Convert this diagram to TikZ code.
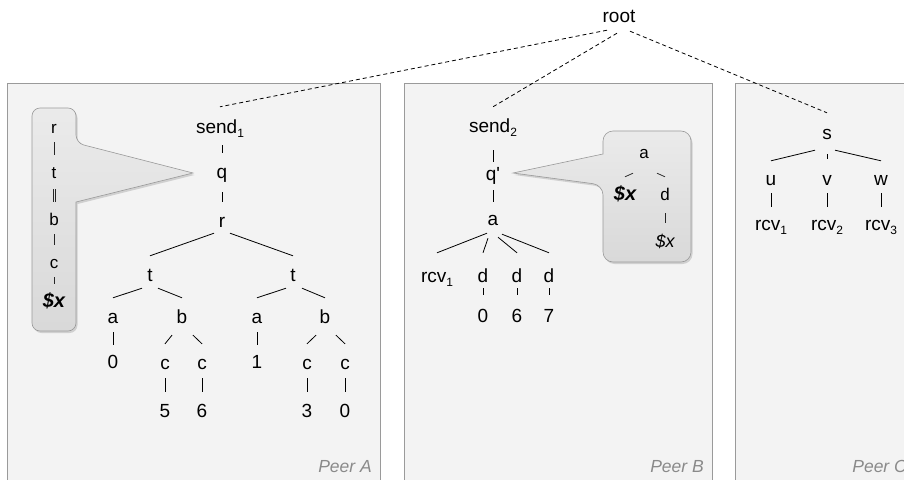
\documentclass[tikz,border=0pt]{standalone}
\usepackage{fontspec}
\setmainfont{Liberation Sans}
\usepackage{xcolor}
\usepackage{tikz}
\usetikzlibrary{shadows}

\definecolor{peerfill}{HTML}{F3F3F3}
\definecolor{peerline}{HTML}{9A9A9A}
\definecolor{peertext}{HTML}{8A8A8A}

\newcommand{\lowix}[1]{\raisebox{-4pt}{\fontsize{12}{12}\selectfont #1}}
\newcommand{\varx}{{\fontsize{20}{22}\selectfont\bfseries\itshape\$x}}

\tikzset{
  tn/.style={font=\fontsize{19}{22}\selectfont, inner sep=0pt, text height=14pt, text depth=4pt, anchor=base},
  kn/.style={font=\fontsize{17}{20}\selectfont, inner sep=0pt, text height=12pt, text depth=3pt, anchor=base},
  twig/.style={line width=0.8pt},
  kwig/.style={line width=0.75pt, draw=black!85},
  link/.style={line width=0.8pt, dash pattern=on 4pt off 3pt},
  peer/.style={fill=peerfill, draw=peerline, line width=0.8pt},
  peerlabel/.style={font=\fontsize{17.5}{20}\selectfont\itshape, text=peertext, anchor=base east, inner sep=0pt},
  callout/.style={draw=black!40, line width=0.6pt, top color=black!8, bottom color=black!15,
    drop shadow={shadow xshift=1.5pt, shadow yshift=-2pt, opacity=0.3}},
}

\begin{document}
\begin{tikzpicture}[x=1pt, y=-1pt]
    \useasboundingbox (0,0) rectangle (904,479);
    \clip (0,0) rectangle (904,479);

    % peers
    \path[peer] (7,83) rectangle (380,490);
    \path[peer] (404,83) rectangle (712,490);
    \path[peer] (735,83) rectangle (915,490);
    \node[peerlabel] (labA) at (372,472) {Peer A};
    \node[peerlabel] (labB) at (704,472) {Peer B};
    \node[peerlabel] (labC) at (907,472) {Peer C};

    % callouts
    \path[callout] (76,143) -- (193,173) -- (76,202) [rounded corners=8pt] -- (76,331) -- (32,331) -- (32,108) -- (76,108) -- cycle;
    \path[callout] (603,185) -- (513,173) -- (603,154) [rounded corners=10pt] -- (603,131) -- (691,131) -- (691,262) -- (603,262) -- cycle;

    \node[tn] (root) at (619,22) {root};

    % Peer A
    \foreach \n/\x/\y/\t in {sendA/220/133/send\lowix{1}, qA/222/178/q, rA/222/227/r,
        tA1/150/281/t, tA2/293/281/t,
        aA1/113/323/a, bA1/182/323/b, aA2/257/323/a, bA2/325/323/b,
        nA1/113/368/0, cA1/165/369/c, cA2/202/369/c, nA2/257/368/1, cA3/307/369/c, cA4/345/369/c,
        nA3/165/417/5, nA4/202/417/6, nA5/307/417/3, nA6/345/417/0}
        \node[tn] (\n) at (\x,\y) {\t};
    \foreach \p/\c/\dx/\da/\db in {sendA/qA/2/8/11, qA/rA/0/10/11, rA/tA1/-8/2/11, rA/tA2/8/2/11,
        tA1/aA1/-8/3/11, tA1/bA1/8/3/11, tA2/aA2/-7/3/11, tA2/bA2/9/3/11,
        aA1/nA1/0/5/9, bA1/cA1/-10/8/11, bA1/cA2/11/8/11, aA2/nA2/0/5/9, bA2/cA3/-9/8/11, bA2/cA4/11/8/11,
        cA1/nA3/0/5/11, cA2/nA4/0/5/11, cA3/nA5/0/5/11, cA4/nA6/0/5/11}
        \draw[twig] ([xshift=\dx pt, yshift=-\da pt]\p.south) -- ([yshift=\db pt]\c.north);

    % Peer B
    \foreach \n/\x/\y/\t in {sendB/493/132/send\lowix{2}, qB/493/180/q\textquotesingle, aB/493/225/a,
        rcvB/437/282/rcv\lowix{1}, dB1/483/282/d, dB2/517/282/d, dB3/549/282/d,
        nB1/483/322/0, nB2/517/322/6, nB3/549/322/7}
        \node[tn] (\n) at (\x,\y) {\t};
    \foreach \p/\c/\dx/\da/\db in {sendB/qB/0/14/4, qB/aB/0/6/9,
        aB/rcvB/-6/4/15, aB/dB1/-5/9/15, aB/dB2/5/8/15, aB/dB3/9/5/15,
        dB1/nB1/0/2/13, dB2/nB2/0/2/13, dB3/nB3/0/2/13}
        \draw[twig] ([xshift=\dx pt, yshift=-\da pt]\p.south) -- ([yshift=\db pt]\c.north);

    % Peer C
    \foreach \n/\x/\y/\t in {sC/827/139/s, uC/771/185/u, vC/827/185/v, wC/881/185/w,
        rcvC1/771/230/rcv\lowix{1}, rcvC2/827/230/rcv\lowix{2}, rcvC3/881/230/rcv\lowix{3}}
        \node[tn] (\n) at (\x,\y) {\t};
    \foreach \p/\c/\dx/\da/\db in {sC/uC/-12/7/10, sC/vC/0/11/12, sC/wC/8/7/10,
        uC/rcvC1/0/4/9, vC/rcvC2/0/4/9, wC/rcvC3/0/4/9}
        \draw[twig] ([xshift=\dx pt, yshift=-\da pt]\p.south) -- ([yshift=\db pt]\c.north);

    % root links
    \foreach \c/\dx/\da/\db in {sendA/-12/4/12, sendB/-2/7/11, sC/11/5/12}
        \draw[link] ([xshift=\dx pt, yshift=-\da pt]root.south) -- ([yshift=\db pt]\c.north);

    % callout A
    \foreach \n/\y/\t in {kA1/133/r, kA2/178/t, kA3/225/b, kA4/268/c, kA5/307/\varx}
        \node[kn] (\n) at (54,\y) {\t};
    \foreach \p/\c in {kA1/kA2, kA3/kA4, kA4/kA5}
        \draw[kwig] ([yshift=-6pt]\p.south) -- ([yshift=11pt]\c.north);
    \foreach \s in {-1,1}
        \draw[kwig] ([xshift=\s pt, yshift=-8pt]kA2.south) -- ([xshift=\s pt, yshift=11pt]kA3.north);

    % callout B
    \node[kn] (kB1) at (644,158) {a};
    \node[kn] (kB2) at (625,200) {\varx};
    \node[kn] (kB3) at (665,200) {d};
    \node[kn, font=\fontsize{18}{20}\selectfont\itshape] (kB4) at (665,247) {\$x};
    \foreach \p/\c/\dx/\da/\db in {kB1/kB2/-11/12/11, kB1/kB3/13/12/11, kB3/kB4/0/10/12}
        \draw[kwig] ([xshift=\dx pt, yshift=-\da pt]\p.south) -- ([yshift=\db pt]\c.north);
\end{tikzpicture}
\end{document}
